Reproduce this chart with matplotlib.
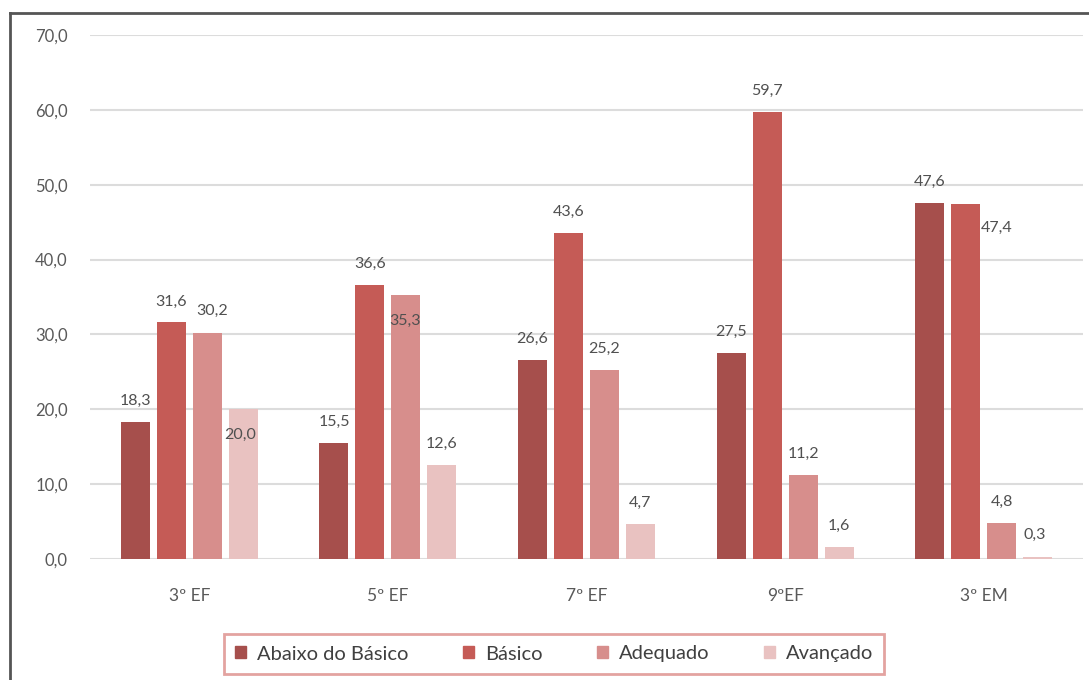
import numpy as np
import matplotlib.pyplot as plt
from matplotlib.patches import Rectangle
from matplotlib.lines import Line2D

plt.rcParams['font.family'] = ['Lato', 'DejaVu Sans']

categorias = ['3º EF', '5º EF', '7º EF', '9ºEF', '3º EM']
series = ['Abaixo do Básico', 'Básico', 'Adequado', 'Avançado']
abaixo = [18.3, 15.5, 26.6, 27.5, 47.6]
basico = [31.6, 36.6, 43.6, 59.7, 47.4]
adequado = [30.2, 35.3, 25.2, 11.2, 4.8]
avancado = [20.0, 12.6, 4.7, 1.6, 0.3]
valores = [abaixo, basico, adequado, avancado]
cores = ['#a64f4c', '#c55b56', '#d78e8c', '#e9c2c1']

# label offsets (pixels) where the label is not just above the bar
offsets = {(3, 0): (-3, -26), (2, 0): (5, 22), (2, 1): (-1, -26),
           (1, 4): (31, -24), (3, 4): (-3, 22)}

fig = plt.figure(figsize=(10.89, 6.8), dpi=100)
ax = fig.add_axes([90/1089, 1-559/680, (1083-90)/1089, (559-35)/680])

x = np.arange(len(categorias))
w = 0.146
passo = 0.181
for i, (s, vals) in enumerate(zip(series, valores)):
    xs = x + (i - 1.5) * passo
    ax.bar(xs, vals, width=w, color=cores[i], label=s, zorder=3)
    for j, v in enumerate(vals):
        dx, dy = offsets.get((i, j), (0, 21))
        ax.annotate(('%.1f' % v).replace('.', ','), (xs[j], v),
                    xytext=(dx, dy), textcoords='offset pixels',
                    ha='center', va='center', fontsize=11.5, color='#505050', zorder=4)

ax.set_xlim(-0.5, len(categorias) - 0.5)
ax.set_ylim(0, 70)
ax.set_yticks(np.arange(0, 71, 10))
ax.set_yticklabels([('%.1f' % t).replace('.', ',') for t in np.arange(0, 71, 10)])
ax.set_xticks(x)
ax.set_xticklabels(categorias)
ax.tick_params(axis='y', length=0, pad=16, labelsize=12, labelcolor='#595959')
ax.tick_params(axis='x', length=0, pad=21, labelsize=12.5, labelcolor='#595959')
ax.grid(axis='y', color='#dcdcdc', linewidth=1.5, zorder=0)
for sp in ax.spines.values():
    sp.set_visible(False)

# outer frame (only left and top visible in the crop)
fig.add_artist(Line2D([10/1089, 10/1089], [0, 1-13/680], color='#555555', lw=2))
fig.add_artist(Line2D([10/1089, 1], [1-13/680, 1-13/680], color='#555555', lw=2))

handles = [Rectangle((0, 0), 1, 1, color=c) for c in cores]
leg = fig.legend(handles, series, loc='center', bbox_to_anchor=(554/1089, 1-654/680),
                 ncol=4, frameon=True, fancybox=False, fontsize=14.5,
                 handlelength=0.55, handleheight=0.55, handletextpad=0.55,
                 columnspacing=2.7, borderpad=0.55, borderaxespad=0)
leg.get_frame().set_edgecolor('#dc8c89')
leg.get_frame().set_linewidth(2)
for t in leg.get_texts():
    t.set_color('#404040')

fig.savefig('out.png', dpi=100)
